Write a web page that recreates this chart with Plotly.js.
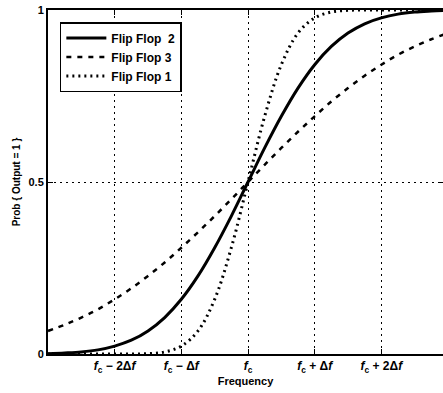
<!DOCTYPE html>
<html>
<head>
<meta charset="utf-8">
<script src="https://cdn.plot.ly/plotly-3.0.1.min.js"></script>
<style>html,body{margin:0;padding:0;background:#fff;}#chart{width:443px;height:393px;}</style>
</head>
<body>
<div id="chart"></div>
<script>
// Frequency offsets in units of Δf relative to f_c
const freq = [-3,-2.75,-2.5,-2.25,-2,-1.75,-1.5,-1.25,-1,-0.75,-0.5,-0.25,0,0.25,0.5,0.75,1,1.25,1.5,1.75,2,2.25,2.5,2.75,3];
const flipFlop2 = [0.001,0.003,0.006,0.012,0.023,0.040,0.067,0.106,0.159,0.227,0.309,0.401,0.5,0.599,0.691,0.773,0.841,0.894,0.933,0.960,0.977,0.988,0.994,0.997,0.999];
const flipFlop3 = [0.067,0.085,0.106,0.130,0.159,0.191,0.227,0.266,0.309,0.354,0.401,0.450,0.5,0.550,0.599,0.646,0.691,0.734,0.773,0.809,0.841,0.870,0.894,0.915,0.933];
const flipFlop1 = [0.000,0.000,0.000,0.000,0.000,0.000,0.001,0.006,0.023,0.067,0.159,0.309,0.5,0.691,0.841,0.933,0.977,0.994,0.999,1.0,1.0,1.0,1.0,1.0,1.0];
const tickVals = [-2,-1,0,1,2];
const tickLabels = [
  '<b><i>f</i><sub>c</sub> \u2212 2\u0394<i>f</i></b>',
  '<b><i>f</i><sub>c</sub> \u2212 \u0394<i>f</i></b>',
  '<b><i>f</i><sub>c</sub></b>',
  '<b><i>f</i><sub>c</sub> + \u0394<i>f</i></b>',
  '<b><i>f</i><sub>c</sub> + 2\u0394<i>f</i></b>'
];
const names = ['Flip Flop  2','Flip Flop 3','Flip Flop 1'];

const font = 'Liberation Sans, Arial, sans-serif';
const traces = [
  {x: freq, y: flipFlop2, name: '<b>'+names[0]+'</b>', mode: 'lines', line: {color: '#000', width: 3, shape: 'spline'}},
  {x: freq, y: flipFlop3, name: '<b>'+names[1]+'</b>', mode: 'lines', line: {color: '#000', width: 2.5, dash: '5px,6px', shape: 'spline'}},
  {x: freq, y: flipFlop1, name: '<b>'+names[2]+'</b>', mode: 'lines', line: {color: '#000', width: 3, dash: '2px,4px', shape: 'spline'}}
];
const layout = {
  width: 443, height: 393,
  margin: {l: 48, r: 0, t: 10, b: 39},
  paper_bgcolor: '#fff', plot_bgcolor: '#fff',
  font: {family: font, color: '#000', size: 11},
  showlegend: true,
  legend: {x: 0.03, y: 0.965, xanchor: 'left', yanchor: 'top', bgcolor: '#fff', bordercolor: '#000', borderwidth: 1.5,
           font: {size: 12, family: font}, tracegroupgap: 0, itemwidth: 40},
  xaxis: {
    range: [-3, 2.925], tickmode: 'array', tickvals: tickVals, ticktext: tickLabels,
    showgrid: true, gridcolor: '#000', gridwidth: 1, griddash: '1.5px,4.5px',
    zeroline: false, showline: true, linecolor: '#000', linewidth: 2, mirror: 'ticks',
    ticks: 'inside', ticklen: 5, tickcolor: '#000', tickfont: {size: 12, family: font},
    title: {text: '<b>Frequency</b>', font: {size: 11, family: font}, standoff: 3}
  },
  yaxis: {
    range: [0, 1], tickmode: 'array', tickvals: [0, 0.5, 1], ticktext: ['<b>0</b>','<b>0.5</b>','<b>1</b>'],
    showgrid: true, gridcolor: '#000', gridwidth: 1, griddash: '1.5px,4.5px',
    zeroline: false, showline: true, linecolor: '#000', linewidth: 2, mirror: 'ticks',
    ticks: 'inside', ticklen: 5, tickcolor: '#000', tickfont: {size: 11, family: font},
    title: {text: '<b>Prob { Output = 1 }</b>', font: {size: 10, family: font}, standoff: 6}
  }
};
Plotly.newPlot('chart', traces, layout, {displayModeBar: false, staticPlot: true});
</script>
</body>
</html>
